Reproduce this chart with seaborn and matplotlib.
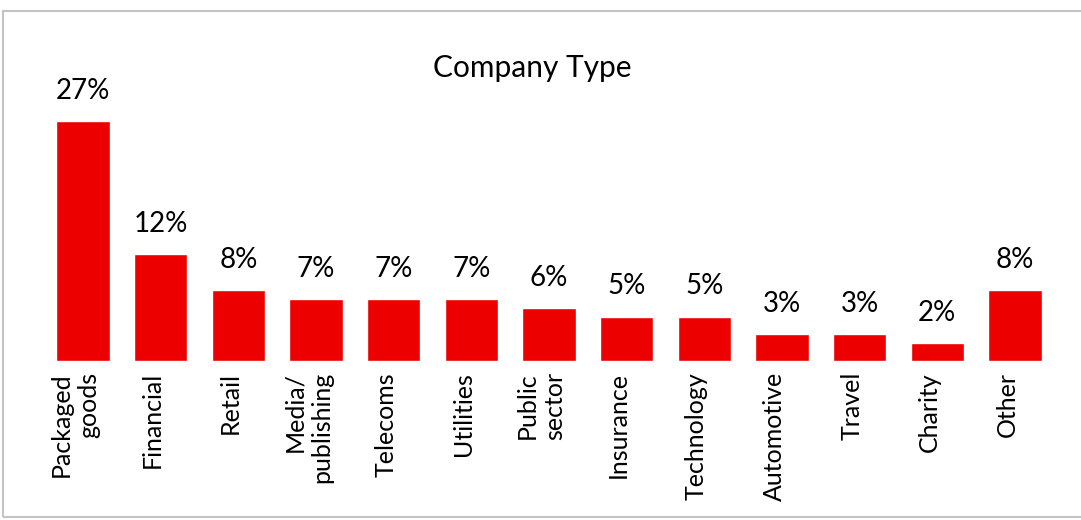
import matplotlib
matplotlib.use("Agg")
import matplotlib.pyplot as plt
import matplotlib.transforms as mtransforms
from matplotlib.patches import Rectangle
import seaborn as sns

categories = ["Packaged\ngoods", "Financial", "Retail", "Media/\npublishing", "Telecoms",
              "Utilities", "Public\nsector", "Insurance", "Technology", "Automotive",
              "Travel", "Charity", "Other"]
values = [27, 12, 8, 7, 7, 7, 6, 5, 5, 3, 3, 2, 8]
value_labels = ["27%", "12%", "8%", "7%", "7%", "7%", "6%", "5%", "5%", "3%", "3%", "2%", "8%"]
title = "Company Type"

sns.set_style("white")
plt.rcParams["font.family"] = ["Lato", "DejaVu Sans"]
plt.rcParams["text.color"] = "black"
plt.rcParams["xtick.color"] = "black"
plt.rcParams["xtick.labelcolor"] = "black"

W, H = 1081, 520
fig = plt.figure(figsize=(W / 100, H / 100), dpi=100)
ax_left, ax_right = 44.2, 1053.8
ax_bottom_px, ax_top_px = 361, 94
ax = fig.add_axes([ax_left / W, (H - ax_bottom_px) / H,
                   (ax_right - ax_left) / W, (ax_bottom_px - ax_top_px) / H])

sns.barplot(x=list(range(len(categories))), y=values, color="#EC0000",
            saturation=1, width=0.69, ax=ax)
ax.set_xlim(-0.5, len(categories) - 0.5)
ax.set_ylim(0, 30)

for i, (v, lab) in enumerate(zip(values, value_labels)):
    ax.annotate(lab, xy=(i, v), xytext=(0, 22), textcoords="offset pixels",
                ha="center", va="baseline", fontsize=20, color="black",
                annotation_clip=False)

ax.set_xticks(range(len(categories)))
ax.set_xticklabels(categories, rotation=90, fontsize=18, va="top", ha="center",
                   multialignment="right", color="black")
ax.tick_params(axis="x", length=0, pad=8)
offset = mtransforms.ScaledTranslation(-8 / 100, 0, fig.dpi_scale_trans)
for t in ax.get_xticklabels():
    t.set_transform(t.get_transform() + offset)
ax.set_yticks([])
ax.set_xlabel("")
ax.set_ylabel("")
for s in ax.spines.values():
    s.set_visible(False)

fig.text(532.5 / W, (H - 68) / H, title, ha="center", va="center", fontsize=21.5,
         color="black")

fig.patches.append(Rectangle((3 / W, (H - 517) / H), (1090 - 3) / W, (517 - 11) / H,
                             transform=fig.transFigure, fill=False,
                             edgecolor="#C4C4C4", linewidth=1.5))

fig.savefig("out.png", dpi=100)
